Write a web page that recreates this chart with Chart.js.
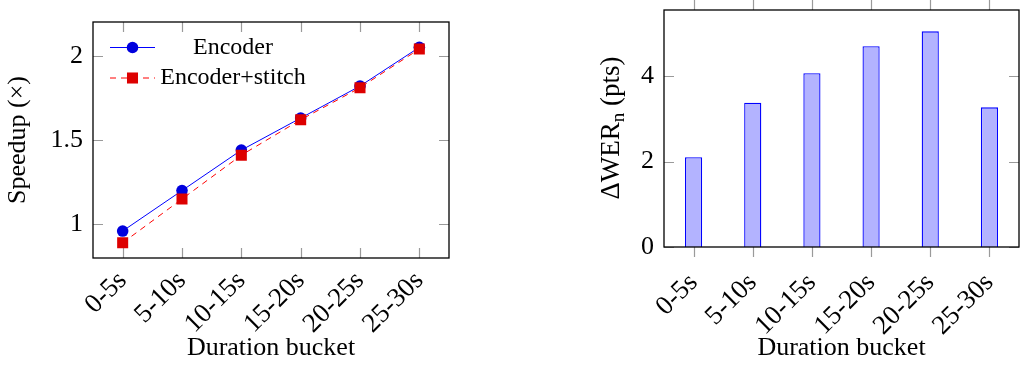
<!DOCTYPE html>
<html>
<head>
<meta charset="utf-8">
<script src="https://cdn.jsdelivr.net/npm/chart.js@4.4.0/dist/chart.umd.min.js"></script>
<style>
html, body { margin: 0; padding: 0; background: #fff; }
#wrap { position: relative; width: 1023px; height: 366px; }
.box { position: absolute; top: 0; height: 366px; }
#b1 { left: 0; width: 511px; }
#b2 { left: 511px; width: 512px; }
</style>
</head>
<body>
<div id="wrap">
  <div class="box" id="b1"><canvas id="speed"></canvas></div>
  <div class="box" id="b2"><canvas id="wer"></canvas></div>
</div>
<script>
var buckets = ['0-5s', '5-10s', '10-15s', '15-20s', '20-25s', '25-30s'];
var encoder = [0.96, 1.20, 1.44, 1.63, 1.82, 2.05];
var encoderStitch = [0.89, 1.15, 1.41, 1.62, 1.81, 2.04];
var speedTicks = [1, 1.5, 2];
var werDelta = [2.10, 3.38, 4.07, 4.70, 5.05, 3.27];
var werTicks = [0, 2, 4];

var serif = 'Liberation Serif';

// pgfplots style: ticks drawn as short marks on the frame, plus black box
function frameTicks(xLen, yLen) {
	return {
		id: 'frameTicks',
		beforeDatasetsDraw: function(chart) {
			var ctx = chart.ctx, a = chart.chartArea;
			var xs = chart.scales.x, ys = chart.scales.y;
			ctx.save();
			ctx.strokeStyle = '#9a9a9a';
			ctx.lineWidth = 1.2;
			ctx.beginPath();
			xs.ticks.forEach(function(t, i) {
				var px = Math.round(xs.getPixelForTick(i)) + 0.5;
				ctx.moveTo(px, a.top); ctx.lineTo(px, a.top + xLen);
				ctx.moveTo(px, a.bottom); ctx.lineTo(px, a.bottom - xLen);
			});
			ys.ticks.forEach(function(t) {
				var py = Math.round(ys.getPixelForValue(t.value)) + 0.5;
				ctx.moveTo(a.left, py); ctx.lineTo(a.left + yLen, py);
				ctx.moveTo(a.right, py); ctx.lineTo(a.right - yLen, py);
			});
			ctx.stroke();
			ctx.restore();
		},
		afterDraw: function(chart) {
			var ctx = chart.ctx, a = chart.chartArea;
			ctx.save();
			ctx.strokeStyle = '#000';
			ctx.lineWidth = 1.3;
			ctx.strokeRect(a.left, a.top, a.right - a.left, a.bottom - a.top);
			ctx.restore();
		}
	};
}

// keep the plot box where the layout padding puts it
function noPad(s) {
	s.paddingTop = 0; s.paddingBottom = 0;
	s.paddingLeft = 0; s.paddingRight = 0;
}

// legend like pgfplots: sample on the left, text centred in its column
var speedLegend = {
	id: 'speedLegend',
	afterDraw: function(chart) {
		var ctx = chart.ctx;
		var rows = [47.5, 78];
		chart.data.datasets.forEach(function(ds, i) {
			var y = rows[i];
			ctx.save();
			ctx.strokeStyle = ds.borderColor;
			ctx.lineWidth = 1;
			ctx.setLineDash(ds.borderDash || []);
			ctx.beginPath();
			ctx.moveTo(110, y); ctx.lineTo(155, y);
			ctx.stroke();
			ctx.setLineDash([]);
			ctx.fillStyle = ds.pointBackgroundColor;
			if (ds.pointStyle === 'rect') {
				var s = ds.pointRadius * Math.SQRT1_2;
				ctx.fillRect(132.5 - s, y - s, 2 * s, 2 * s);
			} else {
				ctx.beginPath();
				ctx.arc(132.5, y, ds.pointRadius, 0, Math.PI * 2);
				ctx.fill();
			}
			ctx.fillStyle = '#000';
			ctx.font = '24px "' + serif + '"';
			ctx.textAlign = 'center';
			ctx.textBaseline = 'middle';
			ctx.fillText(ds.label, 233, y);
			ctx.restore();
		});
	}
};

var xTickFont = { family: serif, size: 27 };
var yTickFont = { family: serif, size: 26 };
var titleFont = { family: serif, size: 26 };

new Chart(document.getElementById('speed'), {
	type: 'line',
	data: {
		labels: buckets,
		datasets: [{
			label: 'Encoder',
			data: encoder,
			borderColor: '#0000ff',
			borderWidth: 1,
			pointStyle: 'circle',
			pointRadius: 5.8,
			pointBackgroundColor: '#0000dd',
			pointBorderColor: '#0000dd',
			pointBorderWidth: 0,
			order: 1
		}, {
			label: 'Encoder+stitch',
			data: encoderStitch,
			borderColor: '#ff0000',
			borderWidth: 1,
			borderDash: [6, 5],
			pointStyle: 'rect',
			pointRadius: 7.8,
			pointBackgroundColor: '#dd0000',
			pointBorderColor: '#dd0000',
			pointBorderWidth: 0,
			order: 0
		}]
	},
	options: {
		responsive: true,
		maintainAspectRatio: false,
		animation: false,
		layout: { padding: { left: 0, top: 22, right: 62, bottom: 2 } },
		plugins: { legend: { display: false }, tooltip: { enabled: false } },
		scales: {
			x: {
				offset: true,
				grid: { display: false, drawTicks: false },
				border: { display: false },
				ticks: { font: xTickFont, color: '#000', minRotation: 45, maxRotation: 45, padding: 7, autoSkip: false },
				title: { display: true, text: 'Duration bucket', font: titleFont, color: '#000', padding: 0 },
				afterFit: function(s) { s.height = 106; noPad(s); }
			},
			y: {
				min: 0.8,
				max: 2.2,
				grid: { display: false, drawTicks: false },
				border: { display: false },
				afterBuildTicks: function(s) { s.ticks = speedTicks.map(function(v) { return { value: v }; }); },
				ticks: { font: yTickFont, color: '#000', padding: 10, callback: function(v) { return String(v); } },
				title: { display: true, text: 'Speedup (×)', font: titleFont, color: '#000', padding: { top: 3, bottom: 0 } },
				afterFit: function(s) { s.width = 93; noPad(s); }
			}
		}
	},
	plugins: [frameTicks(10, 10), speedLegend]
});

// y title with a subscript n, drawn by hand
var werTitle = {
	id: 'werTitle',
	afterDraw: function(chart) {
		var ctx = chart.ctx;
		var big = '27px "' + serif + '"', small = '19px "' + serif + '"';
		var parts = [['\u0394WER', big, 0], ['n', small, 5], [' (pts)', big, 0]];
		ctx.save();
		var total = 0;
		parts.forEach(function(p) { ctx.font = p[1]; total += ctx.measureText(p[0]).width; });
		ctx.translate(108, 128);
		ctx.rotate(-Math.PI / 2);
		ctx.fillStyle = '#000';
		ctx.textBaseline = 'alphabetic';
		var x = -total / 2;
		parts.forEach(function(p) {
			ctx.font = p[1];
			ctx.fillText(p[0], x, p[2]);
			x += ctx.measureText(p[0]).width;
		});
		ctx.restore();
	}
};

new Chart(document.getElementById('wer'), {
	type: 'bar',
	data: {
		labels: buckets,
		datasets: [{
			label: '\u0394WER',
			data: werDelta,
			backgroundColor: 'rgb(179, 179, 255)',
			borderColor: '#0000ff',
			borderWidth: 1.3,
			barPercentage: 0.29,
			categoryPercentage: 1
		}]
	},
	options: {
		responsive: true,
		maintainAspectRatio: false,
		animation: false,
		layout: { padding: { left: 0, top: 10, right: 4, bottom: 2 } },
		plugins: { legend: { display: false }, tooltip: { enabled: false } },
		scales: {
			x: {
				offset: true,
				grid: { display: false, drawTicks: false },
				border: { display: false },
				ticks: { font: xTickFont, color: '#000', minRotation: 45, maxRotation: 45, padding: 20, autoSkip: false },
				title: { display: true, text: 'Duration bucket', font: titleFont, color: '#000', padding: 0 },
				afterFit: function(s) { s.height = 117; noPad(s); }
			},
			y: {
				min: 0,
				max: 5.55,
				grid: { display: false, drawTicks: false },
				border: { display: false },
				afterBuildTicks: function(s) { s.ticks = werTicks.map(function(v) { return { value: v }; }); },
				ticks: { font: yTickFont, color: '#000', padding: 10, callback: function(v) { return String(v); } },
				afterFit: function(s) { s.width = 153; noPad(s); }
			}
		}
	},
	plugins: [frameTicks(-10, 10), werTitle]
});
</script>
</body>
</html>
